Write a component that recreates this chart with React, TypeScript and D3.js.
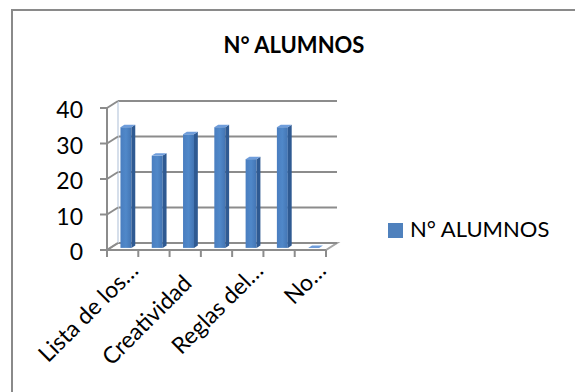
import React from "react";
import * as d3 from "d3";

const categories = ["Lista de los…", "Cat2", "Creatividad", "Cat4", "Reglas del…", "Cat6", "No…"];
const shownLabels = ["Lista de los…", "", "Creatividad", "", "Reglas del…", "", "No…"];
const values = [34, 26, 32, 34, 25, 34, 0];
const yTicks = [0, 10, 20, 30, 40];
const seriesName = "N° ALUMNOS";
const title = "N° ALUMNOS";

const W = 575;
const H = 392;
const DX = 11;
const DY = -7;
const T1 = 0.3;
const T2 = 0.65;
const FONT = "Lato, 'Liberation Sans', Arial, sans-serif";

export default function App() {
  const x = d3
    .scaleBand<string>()
    .domain(categories)
    .range([107, 326])
    .paddingInner(0.65)
    .paddingOuter(0.325);
  const y = d3.scaleLinear().domain([0, 40]).range([250, 108]);
  const step = x.step();
  const x0 = 107;
  const x1 = 326;
  const y0 = y(0);
  const pt = (px: number, py: number, t: number) => `${px + t * DX},${py + t * DY}`;
  const grid = "#8c8c8c";

  return (
    <svg width={W} height={H} style={{ position: "absolute", left: 0, top: 0 }}>
      <defs>
        <linearGradient id="front" x1="0" x2="1" y1="0" y2="0">
          <stop offset="0" stopColor="#4a7ec0" />
          <stop offset="0.5" stopColor="#5088c9" />
          <stop offset="1" stopColor="#4375b4" />
        </linearGradient>
      </defs>
      <rect x={12} y={10} width={700} height={500} fill="#fff" stroke="#8a8a8a" strokeWidth={2} />
      <text x={294} y={53} textAnchor="middle" fontFamily={FONT} fontWeight="bold" fontSize={22} fill="#000">
        {title}
      </text>

      {/* floor */}
      <polygon
        points={[pt(x0, y0, 0), pt(x1, y0, 0), pt(x1, y0, 1), pt(x0, y0, 1)].join(" ")}
        fill="none"
        stroke="#a6a6a6"
        strokeWidth={2}
      />
      {/* back wall gridlines */}
      {yTicks.map((t) => (
        <line
          key={"g" + t}
          x1={x0 + DX}
          x2={x1 + DX}
          y1={y(t) + DY}
          y2={y(t) + DY}
          stroke={grid}
          strokeWidth={2}
        />
      ))}
      {/* left wall back edge */}
      <line x1={x0 + DX} x2={x0 + DX} y1={y(0) + DY} y2={y(40) + DY} stroke="#c8d4e4" strokeWidth={1.5} />
      {/* left wall diagonals */}
      {yTicks.map((t) => (
        <line
          key={"d" + t}
          x1={x0}
          x2={x0 + DX}
          y1={y(t)}
          y2={y(t) + DY}
          stroke={grid}
          strokeWidth={2}
        />
      ))}

      {/* bars */}
      {categories.map((c, i) => {
        const bx = x(c)!;
        const bw = x.bandwidth();
        const yv = y(values[i]);
        return (
          <g key={"b" + i}>
            <rect
              x={bx + T1 * DX}
              y={yv + T1 * DY}
              width={bw}
              height={y0 - yv}
              fill="url(#front)"
            />
            <polygon
              points={[pt(bx + bw, yv, T1), pt(bx + bw, yv, T2), pt(bx + bw, y0, T2), pt(bx + bw, y0, T1)].join(" ")}
              fill="#2f5a92"
            />
            <polygon
              points={[pt(bx, yv, T1), pt(bx + bw, yv, T1), pt(bx + bw, yv, T2), pt(bx, yv, T2)].join(" ")}
              fill="#6f9ddb"
            />
          </g>
        );
      })}

      {/* front axes */}
      <line x1={x0} x2={x0} y1={y(40)} y2={y0 + 1} stroke={grid} strokeWidth={2} />
      <line x1={x0} x2={x1} y1={y0} y2={y0} stroke={grid} strokeWidth={2} />
      {yTicks.map((t) => (
        <g key={"yt" + t}>
          <line x1={x0 - 7} x2={x0} y1={y(t)} y2={y(t)} stroke={grid} strokeWidth={2} />
          <text x={83} y={y(t) + 10} textAnchor="end" fontFamily={FONT} fontSize={23} fill="#000">
            {t}
          </text>
        </g>
      ))}
      {d3.range(categories.length + 1).map((i) => (
        <line
          key={"xt" + i}
          x1={x0 + i * step}
          x2={x0 + i * step}
          y1={y0}
          y2={y0 + 7}
          stroke={grid}
          strokeWidth={2}
        />
      ))}
      {categories.map((c, i) => {
        const lbl = shownLabels[i];
        if (!lbl) return null;
        const cx = x0 + (i + 0.5) * step;
        const trunc = lbl.endsWith("…");
        const ax = trunc ? cx + 17 : cx + 8;
        const ay = trunc ? 272 : 285;
        return (
          <text
            key={"xl" + i}
            transform={`translate(${ax},${ay}) rotate(-45)`}
            textAnchor="end"
            fontFamily={FONT}
            fontSize={23}
            fill="#000"
          >
            {lbl}
          </text>
        );
      })}

      {/* legend */}
      <rect x={388} y={223} width={15} height={15} fill="#4f81bd" />
      <text x={410} y={237} fontFamily={FONT} fontSize={22} fill="#000">
        {seriesName}
      </text>
    </svg>
  );
}
